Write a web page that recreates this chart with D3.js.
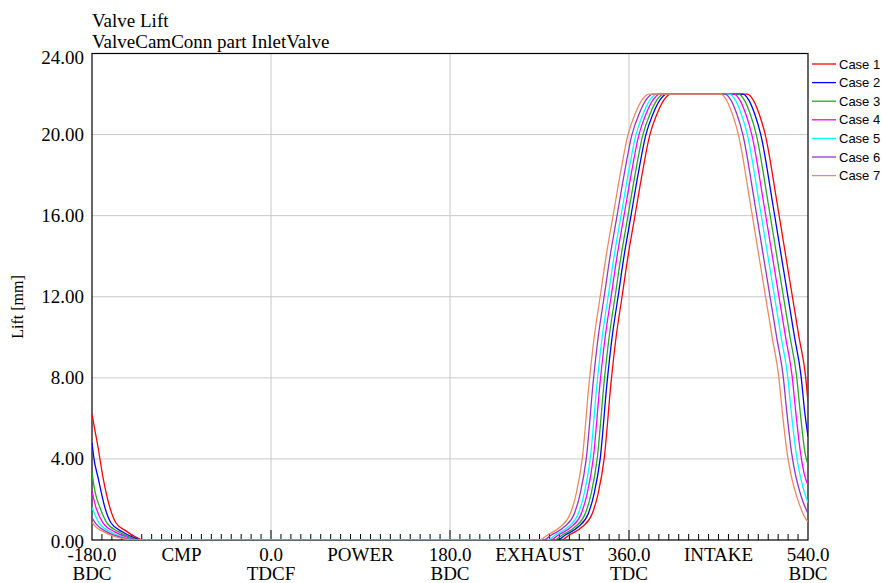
<!DOCTYPE html>
<html>
<head>
<meta charset="utf-8">
<script src="https://cdn.jsdelivr.net/npm/d3@7"></script>
<style>
    body { margin: 0; background: #fff; }
    .serif { font-family: "Liberation Serif", "Times New Roman", serif; font-size: 19px; fill: #000; }
    .ylabel { font-family: "Liberation Serif", "Times New Roman", serif; font-size: 16px; fill: #000; }
    .legend text { font-family: "Liberation Sans", Arial, sans-serif; font-size: 13px; fill: #000; }
    .grid line { stroke: #c8c8c8; stroke-width: 1; }
</style>
</head>
<body>
<div id="chart"></div>
<script>

// ---- data (crank angle [deg], lift [mm]) ----
let caseNames = ['Case 1', 'Case 2', 'Case 3', 'Case 4', 'Case 5', 'Case 6', 'Case 7'];

let case1 = [[-180,6.2],[-177,5.4],[-174,4.6],[-169,3.1],[-162,1.6],[-156,0.85],[-146,0.45],[-135,0.12],[-129,0],
    [292,0],[300,0.25],[313,0.65],[323,1.3],[329,2.3],[335,4.0],[342,7.8],[347,10],[353,12],[359,14],[366,16],[373,18],[381,20],[388,21],[395,21.7],[402,22],
    [479,22],[485,21.7],[491,21],[497,20],[509,16.6],[517,14.2],[525,11.8],[531,10],[537.5,8.1],[540,6.8]];

let case2 = [[-180,4.8],[-178,4.0],[-174,3.1],[-167,1.6],[-161,0.85],[-150,0.42],[-138,0.12],[-131,0],
    [288,0],[296,0.25],[309,0.65],[319,1.3],[325,2.3],[331,4.0],[338,7.8],[343,10],[349,12],[355,14],[362,16],[369,18],[377,20],[384,21],[391,21.7],[398,22],
    [474.5,22],[480.5,21.7],[486.5,21],[492.5,20],[504.5,16.6],[512.5,14.2],[520.5,11.8],[526.5,10],[533,8.1],[536.5,6.4],[540,5.1]];

let case3 = [[-180,3.3],[-177,2.4],[-172,1.6],[-165,0.85],[-153,0.4],[-140,0.1],[-133,0],
    [285,0],[293,0.25],[306,0.65],[316,1.3],[322,2.3],[328,4.0],[335,7.8],[340,10],[346,12],[352,14],[359,16],[366,18],[374,20],[381,21],[388,21.7],[395,22],
    [470,22],[476,21.7],[482,21],[488,20],[500,16.6],[508,14.2],[516,11.8],[522,10],[528.5,8.1],[532,6.4],[537,4.3],[540,3.7]];

let case4 = [[-180,2.4],[-176,1.6],[-169,0.85],[-157,0.4],[-143,0.1],[-135,0],
    [281,0],[289,0.25],[302,0.65],[312,1.3],[318,2.3],[324,4.0],[331,7.8],[336,10],[342,12],[348,14],[355,16],[362,18],[370,20],[377,21],[384,21.7],[391,22],
    [465.5,22],[471.5,21.7],[477.5,21],[483.5,20],[495.5,16.6],[503.5,14.2],[511.5,11.8],[517.5,10],[524,8.1],[527.5,6.4],[532.5,4.3],[536.5,3.2],[540,2.7]];

let case5 = [[-180,1.6],[-173,0.85],[-161,0.4],[-146,0.1],[-136,0],
    [278,0],[286,0.25],[299,0.65],[309,1.3],[315,2.3],[321,4.0],[328,7.8],[333,10],[339,12],[345,14],[352,16],[359,18],[367,20],[374,21],[381,21.7],[388,22],
    [461,22],[467,21.7],[473,21],[479,20],[491,16.6],[499,14.2],[507,11.8],[513,10],[519.5,8.1],[523,6.4],[528,4.3],[532,3.2],[538,2.1],[540,1.85]];

let case6 = [[-180,1.1],[-176,0.8],[-165,0.4],[-149,0.1],[-138,0],
    [274,0],[282,0.25],[295,0.65],[305,1.3],[311,2.3],[317,4.0],[324,7.8],[329,10],[335,12],[341,14],[348,16],[355,18],[363,20],[370,21],[377,21.7],[384,22],
    [456.5,22],[462.5,21.7],[468.5,21],[474.5,20],[486.5,16.6],[494.5,14.2],[502.5,11.8],[508.5,10],[515,8.1],[518.5,6.4],[523.5,4.3],[527.5,3.2],[533.5,2.1],[540,1.3]];

let case7 = [[-180,0.9],[-178,0.75],[-168,0.4],[-152,0.1],[-140,0],
    [270,0],[278,0.25],[291,0.65],[301,1.3],[307,2.3],[313,4.0],[320,7.8],[325,10],[331,12],[337,14],[344,16],[351,18],[359,20],[366,21],[373,21.7],[380,22],
    [452,22],[458,21.7],[464,21],[470,20],[482,16.6],[490,14.2],[498,11.8],[504,10],[510.5,8.1],[514,6.4],[519,4.3],[523,3.2],[529,2.1],[537,1.1],[540,0.9]];

let yTicks = [0, 4, 8, 12, 16, 20, 24];
let xMajorTicks = [-180, 0, 180, 360, 540];
let xMajorLabels = ['-180.0', '0.0', '180.0', '360.0', '540.0'];
let xDeadCentres = ['BDC', 'TDCF', 'BDC', 'TDC', 'BDC'];
let strokeAngles = [-90, 90, 270, 450];
let strokeNames = ['CMP', 'POWER', 'EXHAUST', 'INTAKE'];

let caseColors = ['#ff0000', '#0000ff', '#22aa22', '#ff00ff', '#00ffff', '#9933cc', '#ee8a60'];


class ValveLiftVis {

    constructor(parentElement, series) {
        this.parentElement = parentElement;
        this.series = series;
        this.initVis();
    }

    initVis() {
        let vis = this;

        vis.margin = {top: 53.5, right: 74, bottom: 43, left: 92};
        vis.width = 882 - vis.margin.left - vis.margin.right;
        vis.height = 583 - vis.margin.top - vis.margin.bottom;

        vis.root = d3.select('#' + vis.parentElement).append('svg')
            .attr('width', 882)
            .attr('height', 583);

        vis.svg = vis.root.append('g')
            .attr('transform', `translate(${vis.margin.left}, ${vis.margin.top})`);

        vis.x = d3.scaleLinear().domain([-180, 540]).range([0, vis.width]);
        vis.y = d3.scaleLinear().domain([0, 24]).range([vis.height, 0]);

        // titles
        vis.root.append('text').attr('class', 'serif')
            .attr('x', 92).attr('y', 27).text('Valve Lift');
        vis.root.append('text').attr('class', 'serif')
            .attr('x', 92).attr('y', 48).text('ValveCamConn part InletValve');

        // y axis label
        vis.root.append('text').attr('class', 'ylabel')
            .attr('transform', 'translate(23, 307) rotate(-90)')
            .attr('text-anchor', 'middle')
            .text('Lift [mm]');

        vis.svg.append('defs').append('clipPath').attr('id', 'plotClip')
            .append('rect').attr('width', vis.width).attr('height', vis.height);

        this.drawAxes();
        this.updateVis();
    }

    drawAxes() {
        let vis = this;

        // grid
        let grid = vis.svg.append('g').attr('class', 'grid');
        grid.selectAll('.hgrid').data(yTicks.slice(1, -1)).enter().append('line')
            .attr('class', 'hgrid')
            .attr('x1', 0).attr('x2', vis.width)
            .attr('y1', d => vis.y(d)).attr('y2', d => vis.y(d));
        grid.selectAll('.vgrid').data(xMajorTicks.slice(1, -1)).enter().append('line')
            .attr('class', 'vgrid')
            .attr('y1', 0).attr('y2', vis.height)
            .attr('x1', d => vis.x(d)).attr('x2', d => vis.x(d));

        // y tick labels
        vis.svg.append('g').selectAll('text').data(yTicks).enter().append('text')
            .attr('class', 'serif')
            .attr('x', -8)
            .attr('y', d => vis.y(d) + (d === 0 ? 2 : d === 24 ? 4 : 0))
            .attr('dy', '0.34em')
            .attr('text-anchor', 'end')
            .text(d => d3.format('.2f')(d));

        // x ticks (inside, pointing up)
        let minor = d3.range(-170, 540, 10);
        vis.svg.append('g').selectAll('line').data(minor).enter().append('line')
            .attr('x1', d => vis.x(d)).attr('x2', d => vis.x(d))
            .attr('y1', vis.height)
            .attr('y2', d => vis.height - (d % 180 === 0 ? 10 : 6))
            .attr('stroke', '#000').attr('stroke-width', 1);

        // x labels
        let xl = vis.svg.append('g');
        xl.selectAll('.xmaj').data(xMajorTicks).enter().append('text')
            .attr('class', 'serif xmaj')
            .attr('x', d => vis.x(d)).attr('y', vis.height + 21)
            .attr('text-anchor', 'middle')
            .text((d, i) => xMajorLabels[i]);
        xl.selectAll('.xdc').data(xMajorTicks).enter().append('text')
            .attr('class', 'serif xdc')
            .attr('x', d => vis.x(d)).attr('y', vis.height + 40)
            .attr('text-anchor', 'middle')
            .text((d, i) => xDeadCentres[i]);
        xl.selectAll('.xst').data(strokeAngles).enter().append('text')
            .attr('class', 'serif xst')
            .attr('x', d => vis.x(d)).attr('y', vis.height + 21)
            .attr('text-anchor', 'middle')
            .text((d, i) => strokeNames[i]);

        // frame
        vis.svg.append('rect')
            .attr('width', vis.width).attr('height', vis.height)
            .attr('fill', 'none').attr('stroke', '#000').attr('stroke-width', 1.2);
    }

    updateVis() {
        let vis = this;

        let line = d3.line()
            .x(d => vis.x(d[0]))
            .y(d => vis.y(d[1]))
            .curve(d3.curveMonotoneX);

        vis.svg.append('g').attr('clip-path', 'url(#plotClip)')
            .selectAll('path').data(vis.series).enter().append('path')
            .attr('d', d => line(d))
            .attr('fill', 'none')
            .attr('stroke', (d, i) => caseColors[i])
            .attr('stroke-width', 1.3);

        // legend
        let legend = vis.root.append('g').attr('class', 'legend')
            .attr('transform', 'translate(812, 64)');
        let rows = legend.selectAll('g').data(caseNames).enter().append('g')
            .attr('transform', (d, i) => `translate(0, ${i * 18.6})`);
        rows.append('line')
            .attr('x1', 0).attr('x2', 24)
            .attr('stroke', (d, i) => caseColors[i]).attr('stroke-width', 1.3);
        rows.append('text')
            .attr('x', 27).attr('dy', '0.35em')
            .text(d => d);
    }
}

new ValveLiftVis('chart', [case1, case2, case3, case4, case5, case6, case7]);

</script>
</body>
</html>
